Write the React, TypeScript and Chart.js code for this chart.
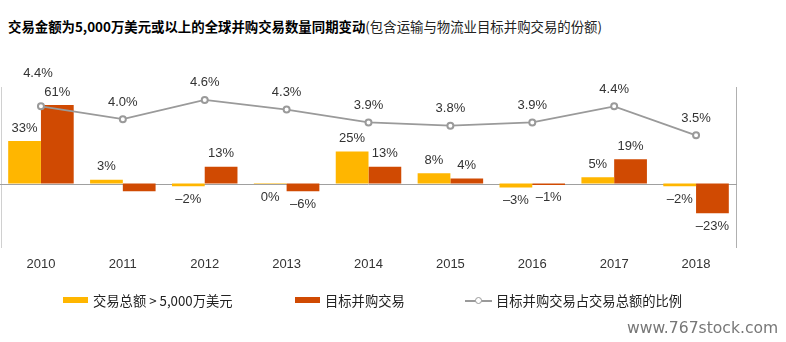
import React, { useEffect, useRef } from "react";
import { Chart, registerables } from "chart.js";

Chart.register(...registerables);

const years = ["2010", "2011", "2012", "2013", "2014", "2015", "2016", "2017", "2018"];
const dealValue = [33, 3, -2, -0.4, 25, 8, -3, 5, -2];
const dealValueLabels = ["33%", "3%", "–2%", "0%", "25%", "8%", "–3%", "5%", "–2%"];
const targetDeals = [61, -6, 13, -6, 13, 4, -1, 19, -23];
const targetDealsLabels = ["61%", "", "13%", "–6%", "13%", "4%", "–1%", "19%", "–23%"];
const shareValues = [4.4, 4.0, 4.6, 4.3, 3.9, 3.8, 3.9, 4.4, 3.5];
const shareLabels = ["4.4%", "4.0%", "4.6%", "4.3%", "3.9%", "3.8%", "3.9%", "4.4%", "3.5%"];

const titleBold = "交易金额为5,000万美元或以上的全球并购交易数量同期变动";
const titleRest = "(包含运输与物流业目标并购交易的份额)";
const legendNames = ["交易总额 > 5,000万美元", "目标并购交易", "目标并购交易占交易总额的比例"];
const watermark = "www.767stock.com";

const YELLOW = "#FFB600";
const ORANGE = "#D04A02";
const GRAY = "#9a9a9a";
const NUM_FONT = "13px 'Liberation Sans', Arial, sans-serif";
const CJK = "'Noto Sans CJK SC', 'Noto Sans', sans-serif";

const labelPlugin = {
  id: "customDraw",
  beforeDatasetsDraw(chart: any) {
    const { ctx, chartArea } = chart;
    const y = chart.scales.y;
    const zero = Math.round(y.getPixelForValue(0)) + 0.5;
    ctx.save();
    ctx.lineWidth = 1;
    ctx.strokeStyle = "#d0d0d0";
    ctx.beginPath();
    ctx.moveTo(chartArea.left + 1.5, chartArea.top);
    ctx.lineTo(chartArea.left + 1.5, chartArea.bottom);
    ctx.stroke();
    ctx.strokeStyle = "#b0b0b0";
    ctx.beginPath();
    ctx.moveTo(chartArea.right - 0.5, chartArea.top);
    ctx.lineTo(chartArea.right - 0.5, chartArea.bottom);
    ctx.stroke();
    ctx.strokeStyle = "#a0a0a0";
    ctx.beginPath();
    ctx.moveTo(chartArea.left, zero);
    ctx.lineTo(chartArea.right, zero);
    ctx.stroke();
    ctx.restore();
  },
  afterDatasetsDraw(chart: any) {
    const { ctx, chartArea } = chart;
    ctx.save();
    ctx.font = NUM_FONT;
    ctx.fillStyle = "#333";
    ctx.textAlign = "center";
    ctx.textBaseline = "middle";
    const xs = chart.scales.x;
    years.forEach((yr, i) => {
      ctx.fillText(yr, xs.getPixelForValue(i), chartArea.bottom + 16);
    });
    const barSets = [
      { idx: 0, labels: dealValueLabels, values: dealValue },
      { idx: 1, labels: targetDealsLabels, values: targetDeals },
    ];
    barSets.forEach(({ idx, labels, values }) => {
      const meta = chart.getDatasetMeta(idx);
      meta.data.forEach((bar: any, i: number) => {
        const text = labels[i];
        if (!text) return;
        const v = values[i];
        const top = Math.min(bar.y, bar.base);
        const bottom = Math.max(bar.y, bar.base);
        const ty = v >= 0 ? top - 13 : bottom + 13;
        ctx.fillText(text, bar.x, ty);
      });
    });
    const lineMeta = chart.getDatasetMeta(2);
    lineMeta.data.forEach((pt: any, i: number) => {
      const raise = i === 0 ? 16 : 0;
      ctx.fillText(shareLabels[i], pt.x - (i === 0 ? 3 : 0), pt.y - 17 - raise);
    });
    ctx.restore();
  },
};

export default function App() {
  const canvasRef = useRef<HTMLCanvasElement | null>(null);

  useEffect(() => {
    document.body.style.margin = "0";
    const canvas = canvasRef.current;
    if (!canvas) return;
    const chart = new Chart(canvas, {
      type: "bar",
      data: {
        labels: years,
        datasets: [
          {
            type: "bar",
            label: legendNames[0],
            data: dealValue,
            backgroundColor: YELLOW,
            borderWidth: 0,
            yAxisID: "y",
            order: 2,
            barPercentage: 1.0,
            categoryPercentage: 0.8,
          },
          {
            type: "bar",
            label: legendNames[1],
            data: targetDeals,
            backgroundColor: ORANGE,
            borderWidth: 0,
            yAxisID: "y",
            order: 2,
            barPercentage: 1.0,
            categoryPercentage: 0.8,
          },
          {
            type: "line",
            label: legendNames[2],
            data: shareValues,
            borderColor: GRAY,
            borderWidth: 1.8,
            pointRadius: 3,
            pointBorderWidth: 2,
            pointBackgroundColor: "#fff",
            pointBorderColor: GRAY,
            yAxisID: "y2",
            order: 0,
            tension: 0,
          } as any,
        ],
      },
      options: {
        responsive: false,
        animation: false,
        layout: { autoPadding: false, padding: { left: 0, right: 49, top: 87, bottom: 94 } },
        plugins: {
          legend: { display: false },
          tooltip: { enabled: false },
          title: { display: false },
        },
        scales: {
          x: { display: false, offset: true },
          y: { display: false, min: -50, max: 75 },
          y2: { display: false, min: 0, max: 5, position: "right" },
        },
      },
      plugins: [labelPlugin],
    } as any);
    return () => chart.destroy();
  }, []);

  const legendText: React.CSSProperties = {
    position: "absolute",
    top: 292,
    fontFamily: CJK,
    fontSize: 13.3,
    lineHeight: "18px",
    color: "#222",
    whiteSpace: "nowrap",
  };

  return (
    <div style={{ position: "relative", width: 786, height: 342, background: "#fff", overflow: "hidden" }}>
      <div
        style={{
          position: "absolute",
          left: 8,
          top: 16,
          fontFamily: CJK,
          fontSize: 13.4,
          lineHeight: "20px",
          whiteSpace: "nowrap",
        }}
      >
        <span style={{ fontWeight: 700, color: "#000" }}>{titleBold}</span>
        <span style={{ fontWeight: 400, color: "#222" }}>{titleRest}</span>
      </div>
      <canvas ref={canvasRef} width={786} height={342} style={{ position: "absolute", left: 0, top: 0 }} />
      <div style={{ position: "absolute", left: 63, top: 297, width: 25, height: 6, background: YELLOW }} />
      <div style={{ ...legendText, left: 93 }}>{legendNames[0]}</div>
      <div style={{ position: "absolute", left: 295, top: 297, width: 25, height: 6, background: ORANGE }} />
      <div style={{ ...legendText, left: 325 }}>{legendNames[1]}</div>
      <div style={{ position: "absolute", left: 465, top: 300, width: 27, height: 2, background: GRAY }} />
      <div
        style={{
          position: "absolute",
          left: 475,
          top: 297,
          width: 5,
          height: 5,
          borderRadius: "50%",
          border: `1.5px solid ${GRAY}`,
          background: "#fff",
        }}
      />
      <div style={{ ...legendText, left: 496 }}>{legendNames[2]}</div>
      <div
        style={{
          position: "absolute",
          left: 627,
          top: 318,
          fontFamily: "'DejaVu Sans', sans-serif",
          fontSize: 15.6,
          lineHeight: "20px",
          color: "#777",
          whiteSpace: "nowrap",
        }}
      >
        {watermark}
      </div>
    </div>
  );
}
